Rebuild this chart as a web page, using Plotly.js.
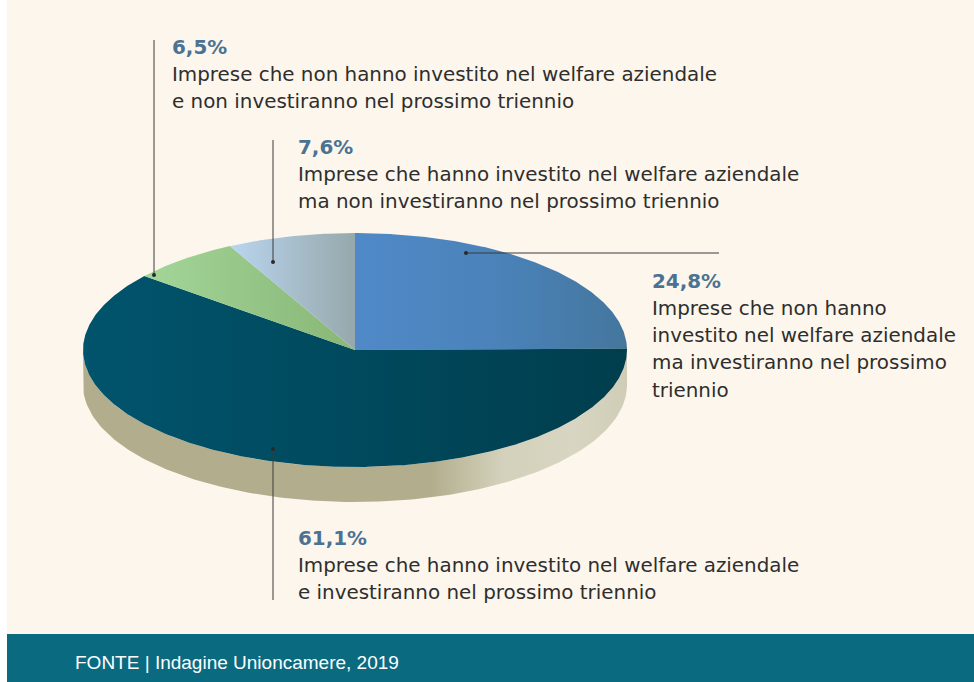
<!DOCTYPE html>
<html>
<head>
<meta charset="utf-8">
<script src="https://cdn.plot.ly/plotly-3.0.1.min.js"></script>
<style>
  html, body { margin: 0; padding: 0; background: #ffffff; }
  #chart { width: 974px; height: 682px; }
</style>
</head>
<body>
<div id="chart"></div>
<script>
// ---------------- DATA ----------------
const categories = [
  'Imprese che non hanno investito nel welfare aziendale ma investiranno nel prossimo triennio',
  'Imprese che hanno investito nel welfare aziendale e investiranno nel prossimo triennio',
  'Imprese che non hanno investito nel welfare aziendale e non investiranno nel prossimo triennio',
  'Imprese che hanno investito nel welfare aziendale ma non investiranno nel prossimo triennio'
];
const values = [24.8, 61.1, 6.5, 7.6];
const pctLabels = ['24,8%', '61,1%', '6,5%', '7,6%'];
const labelLines = [
  ['Imprese che non hanno', 'investito nel welfare aziendale', 'ma investiranno nel prossimo', 'triennio'],
  ['Imprese che hanno investito nel welfare aziendale', 'e investiranno nel prossimo triennio'],
  ['Imprese che non hanno investito nel welfare aziendale', 'e non investiranno nel prossimo triennio'],
  ['Imprese che hanno investito nel welfare aziendale', 'ma non investiranno nel prossimo triennio']
];
const sourceText = 'FONTE | Indagine Unioncamere, 2019';

// ---------------- STYLE / LAYOUT ----------------
const W = 974, H = 682;
const pie = { cx: 355, cy: 350, rx: 272, ry: 117, depth: 35 };
const sliceGradients = [
  [[0, '#5089c8'], [0.55, '#4a82b8'], [1, '#44769d']],
  [[0, '#01546d'], [1, '#003e4d']],
  [[0, '#a3d699'], [1, '#88b676']],
  [[0, '#b9d5ef'], [1, '#96a8ab']]
];
const sideGradient = [[0, '#b2ae8d'], [0.64, '#b2ae8d'], [0.77, '#d3d1bb'], [0.9, '#d8d6c2'], [1, '#cfcdb6']];
// label block positions: [x, y of percent line], line spacing
const labelPos = [[650, 281], [296, 538], [170, 47], [296, 147]];
const lineGap = 27.3;
// leader lines (callout geometry): dot end first
const leaders = [
  { x0: 466, y0: 253, x1: 719, y1: 253 },
  { x0: 273, y0: 449, x1: 273, y1: 600 },
  { x0: 154, y0: 275, x1: 154, y1: 40 },
  { x0: 273, y0: 262, x1: 273, y1: 140 }
];

function pt(theta, dy) {
  const r = theta * Math.PI / 180;
  return [pie.cx + pie.rx * Math.sin(r), pie.cy - pie.ry * Math.cos(r) + (dy || 0)];
}

const traces = [];

// side (extrusion) - front half of the ellipse
(function () {
  const xs = [], ys = [];
  for (let t = 90; t <= 270; t += 1) { const p = pt(t); xs.push(p[0]); ys.push(p[1]); }
  for (let t = 270; t >= 90; t -= 1) { const p = pt(t, pie.depth); xs.push(p[0]); ys.push(p[1]); }
  traces.push({
    type: 'scatter', mode: 'lines', x: xs, y: ys, fill: 'toself',
    line: { width: 0, color: 'rgba(0,0,0,0)' },
    fillgradient: { type: 'horizontal', colorscale: sideGradient, start: pie.cx - pie.rx, stop: pie.cx + pie.rx },
    hoverinfo: 'skip', showlegend: false
  });
})();

// top slices
const total = values.reduce((a, b) => a + b, 0);
let acc = 0;
values.forEach((v, i) => {
  const a0 = acc / total * 360;
  acc += v;
  const a1 = acc / total * 360;
  const xs = [pie.cx], ys = [pie.cy];
  const n = Math.max(4, Math.ceil((a1 - a0) / 0.5));
  for (let k = 0; k <= n; k++) {
    const p = pt(a0 + (a1 - a0) * k / n);
    xs.push(p[0]); ys.push(p[1]);
  }
  xs.push(pie.cx); ys.push(pie.cy);
  traces.push({
    type: 'scatter', mode: 'lines', x: xs, y: ys, fill: 'toself',
    name: categories[i],
    line: { width: 0, color: 'rgba(0,0,0,0)' },
    fillgradient: { type: 'horizontal', colorscale: sliceGradients[i] },
    hoverinfo: 'text', text: pctLabels[i], showlegend: false
  });
});

// leader lines and dots
leaders.forEach(l => {
  traces.push({
    type: 'scatter', mode: 'lines', x: [l.x0, l.x1], y: [l.y0, l.y1],
    line: { color: '#3a3a3a', width: 1 }, hoverinfo: 'skip', showlegend: false
  });
  traces.push({
    type: 'scatter', mode: 'markers', x: [l.x0], y: [l.y0],
    marker: { color: '#2a2a2a', size: 4 }, hoverinfo: 'skip', showlegend: false
  });
});

// annotations
const annotations = [];
pctLabels.forEach((p, i) => {
  const [x, y] = labelPos[i];
  annotations.push({
    x: x, y: y, xref: 'x', yref: 'y', xanchor: 'left', yanchor: 'middle',
    text: '<b>' + p + '</b>', showarrow: false,
    font: { family: 'DejaVu Sans', size: 19.9, color: '#4b7292' }
  });
  labelLines[i].forEach((t, j) => {
    annotations.push({
      x: x, y: y + lineGap * (j + 1), xref: 'x', yref: 'y', xanchor: 'left', yanchor: 'middle',
      text: t, showarrow: false,
      font: { family: 'DejaVu Sans', size: 19.9, color: '#2e2e2e' }
    });
  });
});
annotations.push({
  x: 73, y: 662, xref: 'x', yref: 'y', xanchor: 'left', yanchor: 'middle',
  text: sourceText, showarrow: false,
  font: { family: 'Liberation Sans, Arial, sans-serif', size: 19, color: '#ffffff' }
});

const layout = {
  width: W, height: H,
  margin: { l: 0, r: 0, t: 0, b: 0, pad: 0 },
  paper_bgcolor: '#ffffff', plot_bgcolor: 'rgba(0,0,0,0)',
  xaxis: { range: [0, W], visible: false, fixedrange: true },
  yaxis: { range: [H, 0], visible: false, fixedrange: true },
  showlegend: false,
  shapes: [
    { type: 'rect', xref: 'x', yref: 'y', x0: 7, x1: W, y0: 0, y1: 634, fillcolor: '#fdf6ec', line: { width: 0 }, layer: 'below' },
    { type: 'rect', xref: 'x', yref: 'y', x0: 7, x1: W, y0: 634, y1: H, fillcolor: '#0a6a80', line: { width: 0 }, layer: 'below' }
  ],
  annotations: annotations
};

Plotly.newPlot('chart', traces, layout, { displayModeBar: false, staticPlot: true });
</script>
</body>
</html>
